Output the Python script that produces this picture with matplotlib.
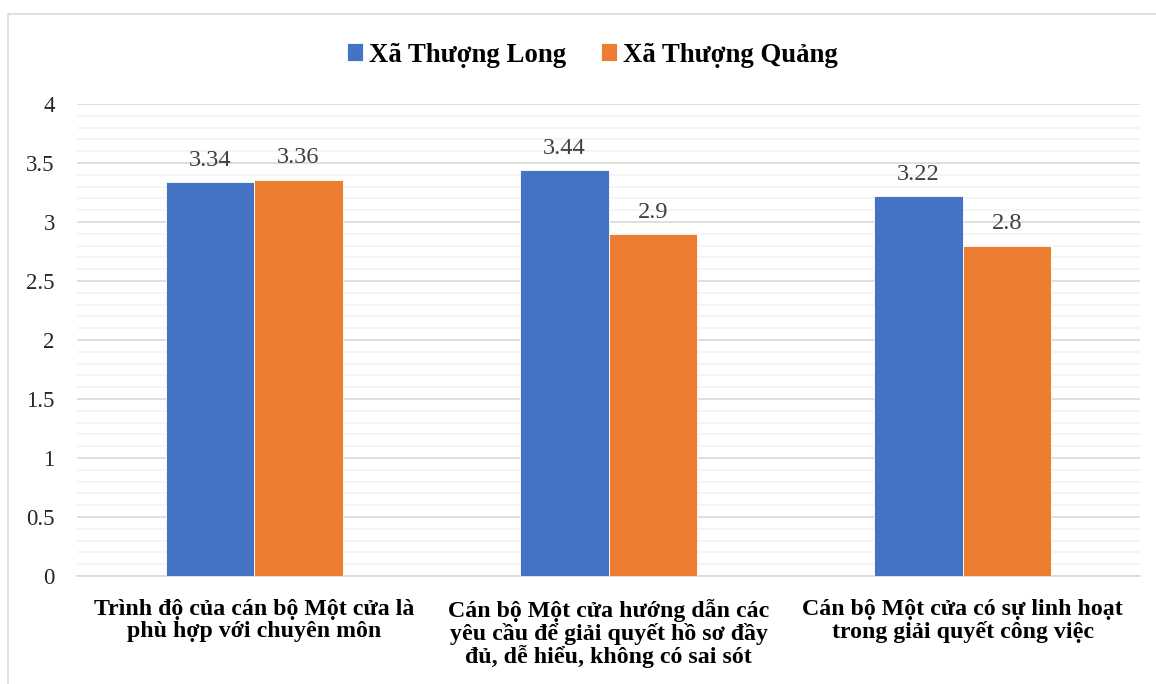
import matplotlib
matplotlib.use("Agg")
import matplotlib.pyplot as plt
from matplotlib.patches import Rectangle
from matplotlib.ticker import MultipleLocator
import numpy as np

categories = [
    "Trình độ của cán bộ Một cửa là\nphù hợp với chuyên môn",
    "Cán bộ Một cửa hướng dẫn các\nyêu cầu để giải quyết hồ sơ đầy\nđủ, dễ hiểu, không có sai sót",
    "Cán bộ Một cửa có sự linh hoạt\ntrong giải quyết công việc",
]
series_names = ["Xã Thượng Long", "Xã Thượng Quảng"]
thuong_long = [3.34, 3.44, 3.22]
thuong_quang = [3.36, 2.9, 2.8]
y_ticks = [0, 0.5, 1, 1.5, 2, 2.5, 3, 3.5, 4]
y_tick_labels = ["0", "0.5", "1", "1.5", "2", "2.5", "3", "3.5", "4"]

BLUE = "#4472C4"
ORANGE = "#ED7D31"
SERIF = ["Liberation Serif", "DejaVu Serif"]

plt.rcParams["font.family"] = SERIF

fig = plt.figure(figsize=(11.56, 6.84), dpi=100)
fig.patch.set_facecolor("white")

# chart frame
fig.patches.append(Rectangle((8 / 1156, -0.1), 1.2, 0.1 + (1 - 14 / 684),
                             transform=fig.transFigure, fill=False,
                             edgecolor="#d9d9d9", linewidth=1.2))

ax = fig.add_axes([77 / 1156, 1 - 576 / 684, (1140 - 77) / 1156, (576 - 104) / 684])

x = np.arange(len(categories))
w = 0.25
b1 = ax.bar(x - w / 2, thuong_long, w, color=BLUE, edgecolor="white",
            linewidth=0.6, label=series_names[0], zorder=3)
b2 = ax.bar(x + w / 2, thuong_quang, w, color=ORANGE, edgecolor="white",
            linewidth=0.6, label=series_names[1], zorder=3)

for bars, vals in ((b1, thuong_long), (b2, thuong_quang)):
    for rect, v in zip(bars, vals):
        ax.annotate(f"{v:g}", (rect.get_x() + rect.get_width() / 2, v),
                    xytext=(0, 8), textcoords="offset points",
                    ha="center", va="bottom", fontsize=17.6, color="#404040")

ax.set_xlim(-0.5, 2.5)
ax.set_ylim(0, 4)
ax.set_yticks(y_ticks)
ax.set_yticklabels(y_tick_labels, fontsize=16.5, color="#262626")
ax.yaxis.set_minor_locator(MultipleLocator(0.1))
ax.grid(axis="y", which="major", color="#d9d9d9", linewidth=1.2, zorder=0)
ax.grid(axis="y", which="minor", color="#f2f2f2", linewidth=1.2, zorder=0)
ax.tick_params(axis="y", which="both", length=0, pad=16)
ax.set_xticks(x)
ax.set_xticklabels(categories, fontsize=17.2, fontweight="bold", color="black",
                   linespacing=1.04)
ax.tick_params(axis="x", length=0, pad=16.5)
for s in ("top", "right", "left"):
    ax.spines[s].set_visible(False)
ax.spines["bottom"].set_color("#d9d9d9")
ax.spines["bottom"].set_linewidth(1.2)
ax.set_axisbelow(True)

fig.legend(handles=[b1, b2], labels=series_names, loc="center",
           bbox_to_anchor=(592 / 1156, 1 - 55 / 684), ncol=2, frameon=False,
           prop={"family": SERIF, "weight": "bold", "size": 19.3},
           handlelength=0.62, handleheight=0.62, handletextpad=0.2,
           columnspacing=1.3)

fig.savefig("out.png", dpi=100, facecolor="white")
